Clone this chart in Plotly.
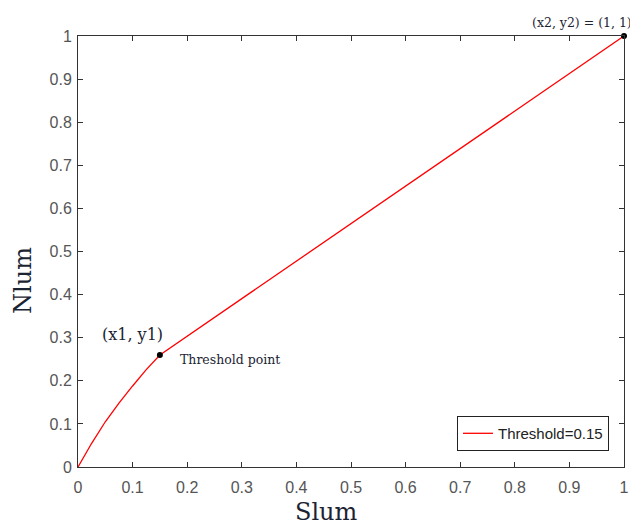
import plotly.graph_objects as go

# Data
slum = [0, 0.025, 0.05, 0.075, 0.1, 0.125, 0.15, 1.0]
nlum = [0, 0.055, 0.105, 0.148, 0.188, 0.226, 0.26, 1.0]
key_x = [0.15, 1.0]
key_y = [0.26, 1.0]
tick_vals = [0, 0.1, 0.2, 0.3, 0.4, 0.5, 0.6, 0.7, 0.8, 0.9, 1]
tick_text = ["0", "0.1", "0.2", "0.3", "0.4", "0.5", "0.6", "0.7", "0.8", "0.9", "1"]

serif = "DejaVu Serif, Liberation Serif, serif"
sans = "Liberation Sans, Arial, sans-serif"
txt_col = "#1b2433"

fig = go.Figure()
fig.add_trace(go.Scatter(x=slum, y=nlum, mode="lines", name="Threshold=0.15",
                         line=dict(color="red", width=1.3)))
fig.add_trace(go.Scatter(x=key_x, y=key_y, mode="markers", showlegend=False,
                         marker=dict(color="black", size=6), cliponaxis=False))

axis_common = dict(range=[0, 1], showgrid=False, zeroline=False, showline=True,
                   linecolor="#333333", linewidth=1, mirror="ticks", ticks="inside",
                   ticklen=5, tickcolor="#333333", tickvals=tick_vals, ticktext=tick_text,
                   tickfont=dict(family=sans, size=16, color="#555555"), automargin=False)

fig.update_layout(
    width=630, height=518,
    margin=dict(l=70, r=14, t=28, b=59),
    paper_bgcolor="white", plot_bgcolor="white",
    xaxis=dict(**axis_common, ticklabelstandoff=6),
    yaxis=dict(**axis_common, ticklabelstandoff=2),
    showlegend=True,
    legend=dict(x=0.9725, y=0.037, xanchor="right", yanchor="bottom",
                bordercolor="#222222", borderwidth=1, bgcolor="white",
                font=dict(family=sans, size=15, color="#222222")),
    annotations=[
        dict(x=0.456, y=-0.104, xref="paper", yref="paper", text="Slum", showarrow=False,
             xanchor="center", yanchor="middle",
             font=dict(family=serif, size=24, color=txt_col)),
        dict(x=-0.1007, y=0.4316, xref="paper", yref="paper", text="Nlum", showarrow=False,
             xanchor="center", yanchor="middle",
             textangle=-90, font=dict(family=serif, size=24, color=txt_col)),
        dict(x=key_x[0], y=key_y[0], xref="x", yref="y", text="(x1, y1)", showarrow=False,
             xshift=-27, yshift=20, font=dict(family=serif, size=16, color=txt_col)),
        dict(x=key_x[0], y=key_y[0], xref="x", yref="y", text="Threshold point", showarrow=False,
             xanchor="left", xshift=18, yshift=-5, font=dict(family=serif, size=12.5, color=txt_col)),
        dict(x=key_x[1], y=key_y[1], xref="x", yref="y", text="(x2, y2) = (1, 1)", showarrow=False,
             xanchor="right", xshift=10, yshift=14, font=dict(family=serif, size=12.5, color=txt_col)),
    ],
)

fig.write_html("out.html")
